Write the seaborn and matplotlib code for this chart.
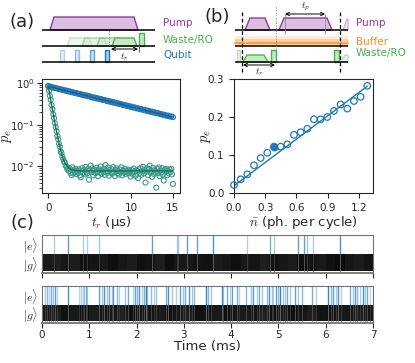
import numpy as np
import matplotlib
matplotlib.use("Agg")
import matplotlib.pyplot as plt
from matplotlib.patches import Polygon, Rectangle, FancyArrowPatch
import seaborn as sns
import pandas as pd

#################### DATA ####################

# (a) decay of p_e vs readout time
t_blue = np.round(np.arange(76) * 0.2, 1)
pe_blue = [0.850, 0.835, 0.808, 0.797, 0.770, 0.762, 0.738, 0.730, 0.703, 0.698,
           0.671, 0.668, 0.640, 0.639, 0.611, 0.610, 0.585, 0.583, 0.558, 0.557,
           0.533, 0.531, 0.510, 0.509, 0.487, 0.486, 0.466, 0.454, 0.455, 0.434,
           0.435, 0.414, 0.416, 0.396, 0.397, 0.378, 0.380, 0.361, 0.363, 0.345,
           0.347, 0.330, 0.331, 0.315, 0.316, 0.300, 0.302, 0.288, 0.289, 0.275,
           0.276, 0.262, 0.264, 0.250, 0.252, 0.239, 0.241, 0.229, 0.230, 0.219,
           0.220, 0.209, 0.210, 0.200, 0.201, 0.191, 0.192, 0.183, 0.183, 0.174,
           0.175, 0.166, 0.167, 0.159, 0.160, 0.154]
t_green = np.round(np.arange(151) * 0.1, 1)
pe_green = [0.86, 0.66, 0.50, 0.40, 0.30, 0.24, 0.18, 0.145, 0.11, 0.088,
            0.070, 0.054, 0.045, 0.035, 0.030, 0.023, 0.021, 0.017, 0.0150, 0.0130,
            0.0125, 0.0105, 0.0098, 0.0085, 0.0093, 0.0078, 0.0088,
            0.0070, 0.0062, 0.0095, 0.0068, 0.0082, 0.0074, 0.0088, 0.0066, 0.0079, 0.0072,
            0.0085, 0.0061, 0.0055, 0.0078, 0.0092, 0.0070, 0.0083, 0.0064, 0.0098, 0.0075,
            0.0068, 0.0087, 0.0048, 0.0080, 0.0105, 0.0073, 0.0090, 0.0062, 0.0078, 0.0084,
            0.0069, 0.0093, 0.0076, 0.0058, 0.0086, 0.0071, 0.0100, 0.0066, 0.0081, 0.0074,
            0.0089, 0.0063, 0.0108, 0.0077, 0.0070, 0.0094, 0.0060, 0.0083, 0.0072, 0.0087,
            0.0067, 0.0097, 0.0075, 0.0059, 0.0082, 0.0090, 0.0069, 0.0078, 0.0064, 0.0085,
            0.0073, 0.0096, 0.0061, 0.0080, 0.0071, 0.0088, 0.0066, 0.0079, 0.0075, 0.0084,
            0.0068, 0.0076, 0.0057, 0.0083, 0.0072, 0.0065, 0.0089, 0.0074, 0.0060, 0.0081,
            0.0078, 0.0052, 0.0086, 0.0070, 0.0092, 0.0063, 0.0077, 0.0098, 0.0068, 0.0084,
            0.0041, 0.0075, 0.0090, 0.0062, 0.0087, 0.0105, 0.0071, 0.0079, 0.0056, 0.0093,
            0.0066, 0.0082, 0.0074, 0.0031, 0.0088, 0.0069, 0.0095, 0.0058, 0.0080, 0.0072,
            0.0091, 0.0064, 0.0046, 0.0083, 0.0076, 0.0087, 0.0061, 0.0079, 0.0068, 0.0085,
            0.0073, 0.0088, 0.0065, 0.0038]
fit_blue_t = [0.0, 15.0]
fit_blue_pe = [0.850, 0.154]
fit_green_t = [0.0, 0.25, 0.5, 0.75, 1.0, 1.25, 1.5, 1.75, 2.0, 2.5, 3.0, 4.0, 15.0]
fit_green_pe = [0.858, 0.448, 0.236, 0.126, 0.069, 0.0395, 0.0242, 0.0163, 0.0122,
                0.0090, 0.0081, 0.0078, 0.0078]

# (b) p_e vs photon number
nbar = np.round(np.arange(21) * 0.064, 3)
pe_nbar = [0.021, 0.036, 0.049, 0.073, 0.092, 0.106, 0.122, 0.122, 0.128, 0.153,
           0.160, 0.169, 0.194, 0.194, 0.200, 0.216, 0.233, 0.222, 0.242, 0.253, 0.282]
nbar_highlight = 6
nbar_fit = [0.0, 1.28]
pe_nbar_fit = [0.019, 0.281]

# (c) quantum jump traces, time in ms, alpha = weight of the event
jumps_top_t = [0.25, 0.56, 0.86, 0.945, 1.205, 2.32, 2.85, 2.88, 3.07, 3.27,
               3.62, 4.33, 4.82, 4.91, 5.42, 5.54, 5.61, 5.74, 6.30]
jumps_top_a = [0.35, 0.7, 0.35, 0.35, 0.4, 0.7, 0.35, 0.4, 0.7, 0.7,
               0.8, 0.35, 0.6, 0.35, 0.7, 0.7, 0.4, 0.35, 0.8]
jumps_bot_t = [0.063, 0.099, 0.148, 0.183, 0.226, 0.275, 0.324, 0.557,
               0.789, 0.825, 0.860, 0.895, 0.930, 0.958,
               1.205, 1.261, 1.311, 1.381, 1.424, 1.473, 1.508, 1.579, 1.635,
               1.755, 1.825, 1.917, 1.966, 2.016, 2.058, 2.107, 2.156, 2.192, 2.227,
               2.297, 2.368, 2.410, 2.622, 2.671, 2.741, 2.833, 2.918, 2.974, 3.023,
               3.108, 3.164, 3.214, 3.467, 3.517, 3.566, 3.799, 3.834, 3.904, 3.975,
               4.024, 4.116, 4.172, 4.313, 4.411, 4.468, 4.538, 4.595, 4.658,
               4.750, 4.806, 4.856, 4.891, 4.947, 4.982, 5.032, 5.088, 5.144, 5.187,
               5.243, 5.349, 5.419, 5.490, 5.701, 5.786, 6.053, 6.103, 6.159, 6.216,
               6.265, 6.314, 6.512, 6.568, 6.617, 6.667, 6.723, 6.779, 6.829, 6.878, 6.934]
jumps_bot_a = [0.4, 0.5, 0.3, 0.6, 0.4, 0.7, 0.3, 0.8,
               0.3, 0.35, 0.3, 0.4, 0.6, 0.35,
               0.7, 0.4, 0.8, 0.4, 0.6, 0.35, 0.7, 0.5, 0.35,
               0.4, 0.6, 0.3, 0.7, 0.5, 0.8, 0.35, 0.6, 0.9, 0.4,
               0.5, 0.3, 0.4, 0.6, 0.8, 0.4, 0.35, 0.7, 0.4, 0.6,
               0.8, 0.4, 0.5, 0.9, 0.5, 0.4, 0.8, 0.4, 0.6, 0.35,
               0.7, 0.6, 0.3, 0.5, 0.4, 0.7, 0.35, 0.6, 0.4,
               0.5, 0.8, 0.4, 0.3, 0.7, 0.5, 0.9, 0.4, 0.35, 0.6,
               0.4, 0.7, 0.4, 0.5, 0.6, 0.35, 0.9, 0.5, 0.7, 0.4,
               0.8, 0.35, 0.6, 0.4, 0.7, 0.5, 0.35, 0.8, 0.4, 0.6, 0.3]
gray_top = [0.10, 0.12, 0.09, 0.11, 0.07, 0.08, 0.10, 0.06, 0.09, 0.11,
            0.07, 0.08, 0.12, 0.06, 0.09, 0.10, 0.08, 0.07, 0.11, 0.09,
            0.06, 0.10, 0.08, 0.12, 0.07, 0.09, 0.11, 0.06, 0.08, 0.10,
            0.07, 0.05, 0.09, 0.11, 0.08]
gray_bot = [0.09, 0.12, 0.07, 0.10, 0.06, 0.11, 0.08, 0.09, 0.13, 0.07,
            0.10, 0.08, 0.11, 0.06, 0.09, 0.12, 0.07, 0.08, 0.10, 0.06,
            0.09, 0.11, 0.08, 0.13, 0.07, 0.10, 0.06, 0.09, 0.12, 0.08,
            0.07, 0.10, 0.09, 0.11, 0.08]

#################### STYLE ####################

sns.set_style("ticks")
plt.rcParams["font.family"] = ["DejaVu Sans"]
plt.rcParams["mathtext.fontset"] = "cm"
plt.rcParams["xtick.labelsize"] = 7.5
plt.rcParams["ytick.labelsize"] = 7.5
plt.rcParams["axes.linewidth"] = 0.8

c_blue = "#1f77b4"
c_blue_fit = "#1b5a8c"
c_teal = "#3a9b89"
c_teal_fit = "#1e6b5f"
c_purple = "#93399e"
c_purple_fill = "#dbbfe0"
c_green = "#4caf50"
c_green_fill = "#c9e8c6"
c_orange = "#ff8c1a"

fig = plt.figure(figsize=(4.15, 3.63), dpi=100)
W, H = 415.0, 363.0

def box(l, t, r, b):
    return [l / W, 1 - b / H, (r - l) / W, (b - t) / H]

#################### SCHEMATICS ####################

s = fig.add_axes([0, 0, 1, 1])
s.set_xlim(0, W)
s.set_ylim(H, 0)
s.axis("off")

def hline(x0, x1, y):
    s.plot([x0, x1], [y, y], color="k", lw=1.1, solid_capstyle="butt")

def trap(x0, x1, ytop, ybase, ramp, fc, ec, alpha=1.0):
    s.add_patch(Polygon([(x0, ybase), (x0 + ramp, ytop), (x1 - ramp, ytop), (x1, ybase)],
                        closed=True, fc=fc, ec=ec, lw=1.0, alpha=alpha))

def rect(x0, x1, ytop, ybase, fc, ec, alpha=1.0):
    s.add_patch(Rectangle((x0, ytop), x1 - x0, ybase - ytop, fc=fc, ec=ec, lw=1.0, alpha=alpha))

def arrow(x0, x1, y):
    s.add_patch(FancyArrowPatch((x0, y), (x1, y), arrowstyle="<->", mutation_scale=6,
                                lw=0.7, color="k", shrinkA=0, shrinkB=0))

# (a) sequence
trap(50, 138, 17, 30, 4, c_purple_fill, c_purple)
for x0, a in zip([67, 82, 97], [0.3, 0.45, 0.6]):
    trap(x0, x0 + 25, 38, 46, 3, c_green_fill, c_green, alpha=a)
trap(112, 137, 38, 46, 3, c_green_fill, c_green)
rect(139, 144, 33, 46, c_green_fill, c_green)
for x0, a in zip([60, 75, 90, 105], [0.3, 0.45, 0.65, 1.0]):
    rect(x0, x0 + 3.5, 50, 62, "#aed0ea", c_blue, alpha=a)
hline(42, 155, 30)
hline(42, 155, 46)
hline(42, 155, 62)
s.plot([109, 109], [31, 46], color="0.5", lw=0.7, ls=":")
s.plot([138.5, 138.5], [46, 52], color="0.3", lw=0.6)
arrow(111, 138, 49)
s.text(124, 57, "$t_r$", fontsize=7, ha="center", va="center")
s.text(163, 23, "Pump", color=c_purple, fontsize=7.5, va="center")
s.text(163, 40, "Waste/RO", color=c_green, fontsize=7.5, va="center")
s.text(163, 55, "Qubit", color=c_blue, fontsize=7.5, va="center")
s.text(22, 22, "(a)", fontsize=13, ha="center", va="center")

# (b) sequence
trap(245, 270, 18, 30, 5, c_purple_fill, c_purple)
trap(279, 332, 18, 30, 5, c_purple_fill, c_purple)
s.add_patch(Polygon([(343, 30), (347, 19), (348, 19), (348, 30)], closed=True,
                    fc=c_purple_fill, ec=c_purple, lw=1.0, alpha=0.35))
s.add_patch(Rectangle((235, 36), 113, 10, fc=c_orange, ec="none", alpha=0.15))
s.add_patch(Rectangle((235, 39), 113, 6, fc=c_orange, ec="none", alpha=0.3))
s.plot([235, 348], [42.5, 42.5], color=c_orange, lw=1.4, alpha=0.7)
hline(235, 348, 30)
hline(235, 348, 46)
rect(237, 240, 50, 62, c_green_fill, c_green, alpha=0.35)
trap(243, 268, 55, 62, 4, c_green_fill, c_green)
rect(271, 276, 50, 62, c_green_fill, c_green)
rect(334, 339, 50, 62, c_green_fill, c_green)
s.add_patch(Polygon([(341, 62), (345, 55), (348, 55), (348, 62)], closed=True,
                    fc=c_green_fill, ec=c_green, lw=1.0, alpha=0.35))
hline(235, 348, 62)
s.plot([242, 242], [12, 72], color="k", lw=0.9, ls=(0, (3, 2)))
s.plot([339.5, 339.5], [12, 72], color="k", lw=0.9, ls=(0, (3, 2)))
s.plot([276, 276], [7, 50], color="0.5", lw=0.7, ls=":")
s.plot([285, 285], [14, 34], color="0.5", lw=0.5)
s.plot([325, 325], [14, 34], color="0.5", lw=0.5)
arrow(285, 325, 14)
s.text(305, 7, "$t_p$", fontsize=7, ha="center", va="center")
arrow(243, 275, 65)
s.text(259, 72, "$t_r$", fontsize=7, ha="center", va="center")
s.text(356, 23, "Pump", color=c_purple, fontsize=7.5, va="center")
s.text(356, 42, "Buffer", color=c_orange, fontsize=7.5, va="center")
s.text(356, 53, "Waste/RO", color=c_green, fontsize=7.5, va="center")
s.text(217, 17, "(b)", fontsize=13, ha="center", va="center")
s.text(22, 223, "(c)", fontsize=13, ha="center", va="center")

#################### (a) ####################

ax1 = fig.add_axes(box(42, 79, 180, 193))
sns.scatterplot(x=t_green, y=pe_green, ax=ax1, marker="o", s=13,
                facecolors="none", edgecolor=c_teal, linewidth=0.8)
sns.scatterplot(x=t_blue, y=pe_blue, ax=ax1, marker="o", s=13,
                facecolors="none", edgecolor=c_blue, linewidth=0.8)
sns.lineplot(x=fit_green_t, y=fit_green_pe, ax=ax1, color=c_teal_fit, lw=1.0)
sns.lineplot(x=fit_blue_t, y=fit_blue_pe, ax=ax1, color=c_blue_fit, lw=1.0)
ax1.set_yscale("log")
ax1.set_ylim(0.0023, 1.27)
ax1.set_xlim(-0.75, 15.85)
ax1.set_xticks([0, 5, 10, 15])
ax1.tick_params(axis="y", which="major", pad=2, labelsize=7.2)
ax1.set_xlabel("$t_r$ (μs)", fontsize=9.5, labelpad=1)
ax1.set_ylabel("$p_e$", fontsize=10.5)
ax1.yaxis.set_label_coords(-0.205, 0.5)

#################### (b) ####################

ax2 = fig.add_axes(box(234, 79, 373, 193))
sns.lineplot(x=nbar_fit, y=pe_nbar_fit, ax=ax2, color=c_blue, lw=1.0)
sns.scatterplot(x=nbar, y=pe_nbar, ax=ax2, marker="o", s=22,
                facecolors="none", edgecolor=c_blue, linewidth=0.9, clip_on=False, zorder=3)
ax2.scatter([nbar[nbar_highlight]], [pe_nbar[nbar_highlight]], s=22, color=c_blue, zorder=4)
ax2.set_xlim(0, 1.335)
ax2.set_ylim(0, 0.3)
ax2.set_xticks([0.0, 0.3, 0.6, 0.9, 1.2])
ax2.set_xticklabels(["0.0", "0.3", "0.6", "0.9", "1.2"])
ax2.set_yticks([0.0, 0.1, 0.2, 0.3])
ax2.set_yticklabels(["0.0", "0.1", "0.2", "0.3"])
ax2.set_xlabel(r"$\bar{n}$ (ph. per cycle)", fontsize=9.5, labelpad=1)
ax2.set_ylabel("$p_e$", fontsize=10.5)
ax2.yaxis.set_label_coords(-0.15, 0.5)

#################### (c) ####################

def trace(ax, jt, ja, gray):
    edges = np.linspace(0, 7, len(gray) + 1)
    ax.pcolormesh(edges, [0, 1], np.array(gray)[None, :], cmap="gray", vmin=0, vmax=1)
    for t, a in zip(jt, ja):
        ax.vlines(t, 1, 2.15, color=c_blue, alpha=a, lw=1.0)
        ax.vlines(t, 0, 1, color=str(0.12 + 0.3 * a), lw=0.7)
    ax.set_xlim(0, 7)
    ax.set_ylim(-0.15, 2.15)
    ax.set_yticks([1.6, 0.48])
    ax.set_yticklabels([r"$|e\rangle$", r"$|g\rangle$"], fontsize=8.5)
    ax.tick_params(axis="y", length=0, pad=3)
    ax.set_xticks(range(8))
    for sp in ax.spines.values():
        sp.set_color("0.45")
    ax.spines["bottom"].set_linewidth(1.3)

ax3 = fig.add_axes(box(42, 235, 373, 273))
trace(ax3, jumps_top_t, jumps_top_a, gray_top)
ax3.set_xticklabels([])
ax4 = fig.add_axes(box(42, 286, 373, 323))
trace(ax4, jumps_bot_t, jumps_bot_a, gray_bot)
ax4.set_xlabel("Time (ms)", fontsize=9.5, labelpad=0)
ax4.tick_params(axis="x", pad=1.5)

fig.savefig("out.png", dpi=100)
